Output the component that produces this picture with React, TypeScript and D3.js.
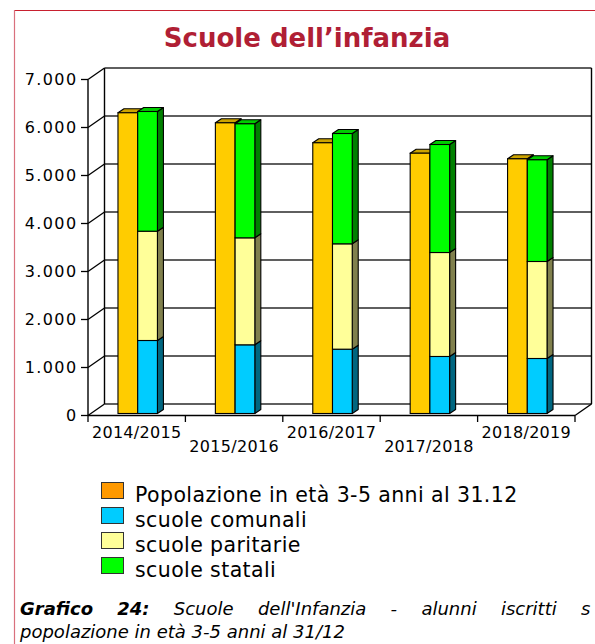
import React, { useMemo } from 'react';
import * as d3 from 'd3';

const categories = ['2014/2015', '2015/2016', '2016/2017', '2017/2018', '2018/2019'];
const popolazione = [6265, 6056, 5640, 5423, 5306];
const comunali = [1521, 1431, 1340, 1188, 1146];
const paritarie = [2277, 2229, 2195, 2166, 2021];
const statali = [2494, 2375, 2298, 2250, 2118];
const yTicks = [0, 1000, 2000, 3000, 4000, 5000, 6000, 7000];
const legendLabels = [
  'Popolazione in età 3-5 anni al 31.12',
  'scuole comunali',
  'scuole paritarie',
  'scuole statali',
];
const legendColors = ['#FF9900', '#00CCFF', '#FFFF99', '#00FF00'];
const stackColors = ['#00CCFF', '#FFFF99', '#00FF00'];
const popColor = '#FFCC00';
const titleText = 'Scuole dell\u2019infanzia';
const captionLine1 = [
  { t: 'Grafico', b: true },
  { t: '24:', b: true },
  { t: 'Scuole', b: false },
  { t: "dell'Infanzia", b: false },
  { t: '-', b: false },
  { t: 'alunni', b: false },
  { t: 'iscritti', b: false },
  { t: 's', b: false },
];
const captionLine2 = 'popolazione in età 3-5 anni al 31/12';

const FONT = '"DejaVu Sans", Verdana, sans-serif';
const fmt = d3.formatLocale({ decimal: ',', thousands: '.', grouping: [3], currency: ['', '€'] }).format(',');

export default function App() {
  const W = 595, H = 644;
  const frontLeft = 88, frontRight = 575;
  const frontZero = 415.5, frontTop = 79.5;
  const ddx = 16.5, ddy = -11.5;
  const barZero = 413.5;
  const barDx = 6, barDy = -4;

  const x = d3.scaleBand<string>().domain(categories).range([frontLeft, frontRight]).paddingInner(0).paddingOuter(0);
  const yFront = d3.scaleLinear().domain([0, 7000]).range([frontZero, frontTop]);
  const yBack = (v: number) => yFront(v) + ddy;
  const yBar = d3.scaleLinear().domain([0, 7000]).range([barZero, barZero - (frontZero - frontTop)]);
  const barW = x.bandwidth() * 0.2025;

  const caption = useMemo(() => {
    const c = document.createElement('canvas').getContext('2d')!;
    const widths = captionLine1.map((w) => {
      c.font = `italic ${w.b ? 'bold ' : ''}18px ${FONT}`;
      return c.measureText(w.t).width;
    });
    const startX = 20, lastX = 581;
    const sumW = widths.slice(0, -1).reduce((a, b) => a + b, 0);
    const gap = (lastX - startX - sumW) / (captionLine1.length - 1);
    const xs: number[] = [];
    let cx = startX;
    widths.forEach((w) => { xs.push(cx); cx += w + gap; });
    return xs;
  }, []);

  const stacks = categories.map((_, i) => {
    const vals = [comunali[i], paritarie[i], statali[i]];
    let acc = 0;
    return vals.map((v, k) => {
      const s = { y0: acc, y1: acc + v, color: stackColors[k] };
      acc += v;
      return s;
    });
  });

  const darker = (c: string, k: number) => {
    const col = d3.rgb(c);
    return d3.rgb(col.r * k, col.g * k, col.b * k).formatHex();
  };

  const box = (x0: number, v0: number, v1: number, color: string, showTop: boolean, key: string) => {
    const yt = yBar(v1), yb = yBar(v0);
    const x1 = x0 + barW;
    return (
      <g key={key}>
        <polygon
          points={`${x1},${yt} ${x1 + barDx},${yt + barDy} ${x1 + barDx},${yb + barDy} ${x1},${yb}`}
          fill={darker(color, 0.5)} stroke="#000" strokeWidth={1.1} strokeLinejoin="round"
        />
        {showTop && (
          <polygon
            points={`${x0},${yt} ${x0 + barDx},${yt + barDy} ${x1 + barDx},${yt + barDy} ${x1},${yt}`}
            fill={darker(color, 0.8)} stroke="#000" strokeWidth={1.1} strokeLinejoin="round"
          />
        )}
        <rect x={x0} y={yt} width={barW} height={yb - yt} fill={color} stroke="#000" strokeWidth={1.1} />
      </g>
    );
  };

  const backLeft = frontLeft + ddx, backRight = frontRight + ddx;

  return (
    <svg width={W} height={H} style={{ position: 'absolute', left: 0, top: 0, background: '#fff' }} fontFamily={FONT}>
      <rect x={0} y={0} width={W} height={H} fill="#fff" />
      {/* red frame */}
      <line x1={14} y1={10.5} x2={W} y2={10.5} stroke="#C8202F" strokeWidth={1.2} />
      <line x1={14.5} y1={10} x2={14.5} y2={H} stroke="#D9707D" strokeWidth={1.2} />

      <text x={307} y={47} textAnchor="middle" fontSize={26} fontWeight="bold" fill="#B01F35">{titleText}</text>

      {/* back wall and grid */}
      {yTicks.map((t) => (
        <g key={'g' + t}>
          <line x1={backLeft} x2={backRight} y1={yBack(t)} y2={yBack(t)} stroke="#2a2a2a" strokeWidth={1.4} />
          <line x1={frontLeft} x2={backLeft} y1={yFront(t)} y2={yBack(t)} stroke="#000" strokeWidth={1.3} />
          <line x1={frontLeft - 7} x2={frontLeft} y1={yFront(t)} y2={yFront(t)} stroke="#000" strokeWidth={1.3} />
          <text x={77.5} y={yFront(t)} dy="0.36em" textAnchor="end" fontSize={16} letterSpacing={1.4} fill="#000">{fmt(t)}</text>
        </g>
      ))}
      <line x1={backLeft} x2={backLeft} y1={yBack(7000)} y2={yBack(0)} stroke="#000" strokeWidth={1.4} />
      <line x1={backRight} x2={backRight} y1={yBack(7000)} y2={yBack(0)} stroke="#000" strokeWidth={1.4} />
      <line x1={frontLeft} x2={frontLeft} y1={yFront(7000)} y2={yFront(0)} stroke="#000" strokeWidth={1.4} />
      <line x1={frontLeft} x2={frontRight} y1={frontZero} y2={frontZero} stroke="#000" strokeWidth={1.4} />
      <line x1={frontRight} x2={backRight} y1={frontZero} y2={yBack(0)} stroke="#000" strokeWidth={1.4} />
      {[...categories.map((c) => x(c)!), frontRight].map((px, i) => (
        <line key={'xt' + i} x1={px} x2={px} y1={frontZero} y2={frontZero + 6.5} stroke="#000" strokeWidth={1.3} />
      ))}
      {categories.map((c, i) => (
        <text key={'xl' + c} x={x(c)! + x.bandwidth() / 2} y={i % 2 === 0 ? 437.5 : 452} textAnchor="middle" fontSize={16} letterSpacing={0.3} fill="#000">{c}</text>
      ))}

      {/* bars */}
      {categories.map((c, i) => {
        const cx = x(c)! + x.bandwidth() / 2 + 1;
        const xo = cx - barW;
        const xs = cx;
        const st = stacks[i];
        return (
          <g key={'bar' + c}>
            {box(xo, 0, popolazione[i], popColor, true, 'p')}
            {st.map((s, k) => box(xs, s.y0, s.y1, s.color, k === st.length - 1, 's' + k))}
          </g>
        );
      })}

      {/* legend */}
      {legendLabels.map((l, i) => (
        <g key={'lg' + i} transform={`translate(0, ${482 + i * 25})`}>
          <rect x={101.5} y={0.5} width={22} height={16} fill={legendColors[i]} stroke="#333" strokeWidth={1} />
          <text x={135} y={19.5} fontSize={20.5} letterSpacing={0.4} fill="#000">{l}</text>
        </g>
      ))}

      {/* caption */}
      {captionLine1.map((w, i) => (
        <text key={'c' + i} x={caption[i]} y={615} fontSize={18} fontStyle="italic" fontWeight={w.b ? 'bold' : 'normal'} fill="#000">{w.t}</text>
      ))}
      <text x={20} y={638} fontSize={18} fontStyle="italic" fill="#000">{captionLine2}</text>
    </svg>
  );
}
